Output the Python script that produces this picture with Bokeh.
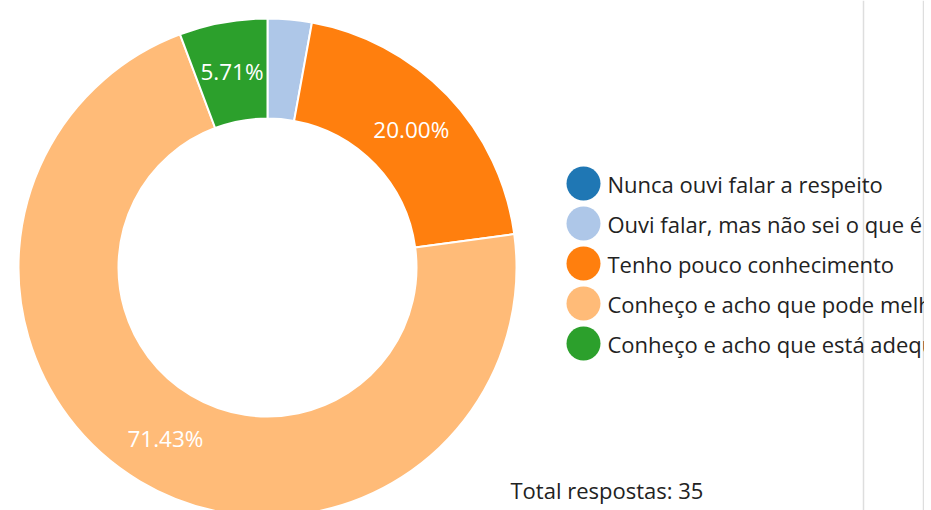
import math
from bokeh.plotting import figure
from bokeh.models import Range1d
from bokeh.core.properties import value
from bokeh.embed import file_html
from bokeh.resources import INLINE

categories = ["Nunca ouvi falar a respeito",
              "Ouvi falar, mas não sei o que é",
              "Tenho pouco conhecimento",
              "Conheço e acho que pode melhorar",
              "Conheço e acho que está adequado"]
counts = [0, 1, 7, 25, 2]
colors = ["#1f77b4", "#aec7e8", "#ff7f0e", "#ffbb78", "#2ca02c"]
total_label = "Total respostas: 35"

W, H = 924, 510
FONT = "Open Sans"

p = figure(width=W, height=H, output_backend="svg", toolbar_location=None,
           x_range=Range1d(0, W), y_range=Range1d(0, H), min_border=0,
           outline_line_color=None)
p.axis.visible = False
p.grid.visible = False

cx, cy = 267, H - 267
r_out, r_in = 249, 149

total = sum(counts)
starts, ends, lx, ly, ltxt = [], [], [], [], []
wc = []
cum = 0
for c, col in zip(counts, colors):
    a0 = math.pi / 2 - 2 * math.pi * cum / total
    cum += c
    a1 = math.pi / 2 - 2 * math.pi * cum / total
    if c > 0:
        starts.append(a0); ends.append(a1); wc.append(col)
        pct = 100 * c / total
        if pct > 5:
            mid = (a0 + a1) / 2
            rm = (r_out + r_in) / 2
            lx.append(cx + rm * math.cos(mid))
            ly.append(cy + rm * math.sin(mid))
            ltxt.append(f"{pct:.2f}%")

p.annular_wedge(x=cx, y=cy, inner_radius=r_in, outer_radius=r_out,
                start_angle=starts, end_angle=ends, direction="clock",
                fill_color=wc, line_color="white", line_width=2)

p.text(x=lx, y=ly, text=ltxt, text_align="center", text_baseline="middle",
       text_color="white", text_font=value(FONT), text_font_size="22.5px")

# separators
p.segment(x0=[863, 923], y0=[0, 0], x1=[863, 923], y1=[H, H],
          line_color="#dedede", line_width=1.5)

# legend
n = len(categories)
ys = [H - (183 + 40 * i) for i in range(n)]
p.scatter(x=[583] * n, y=ys, size=34, marker="circle", fill_color=colors,
          line_color=None)
p.text(x=[607] * n, y=ys, text=categories, text_baseline="middle",
       text_color="#222222", text_font=value(FONT), text_font_size="22px")

p.text(x=[510], y=[H - 489], text=[total_label], text_baseline="middle",
       text_color="#222222", text_font=value(FONT), text_font_size="22px")

open("out.html", "w").write(file_html(p, INLINE))
